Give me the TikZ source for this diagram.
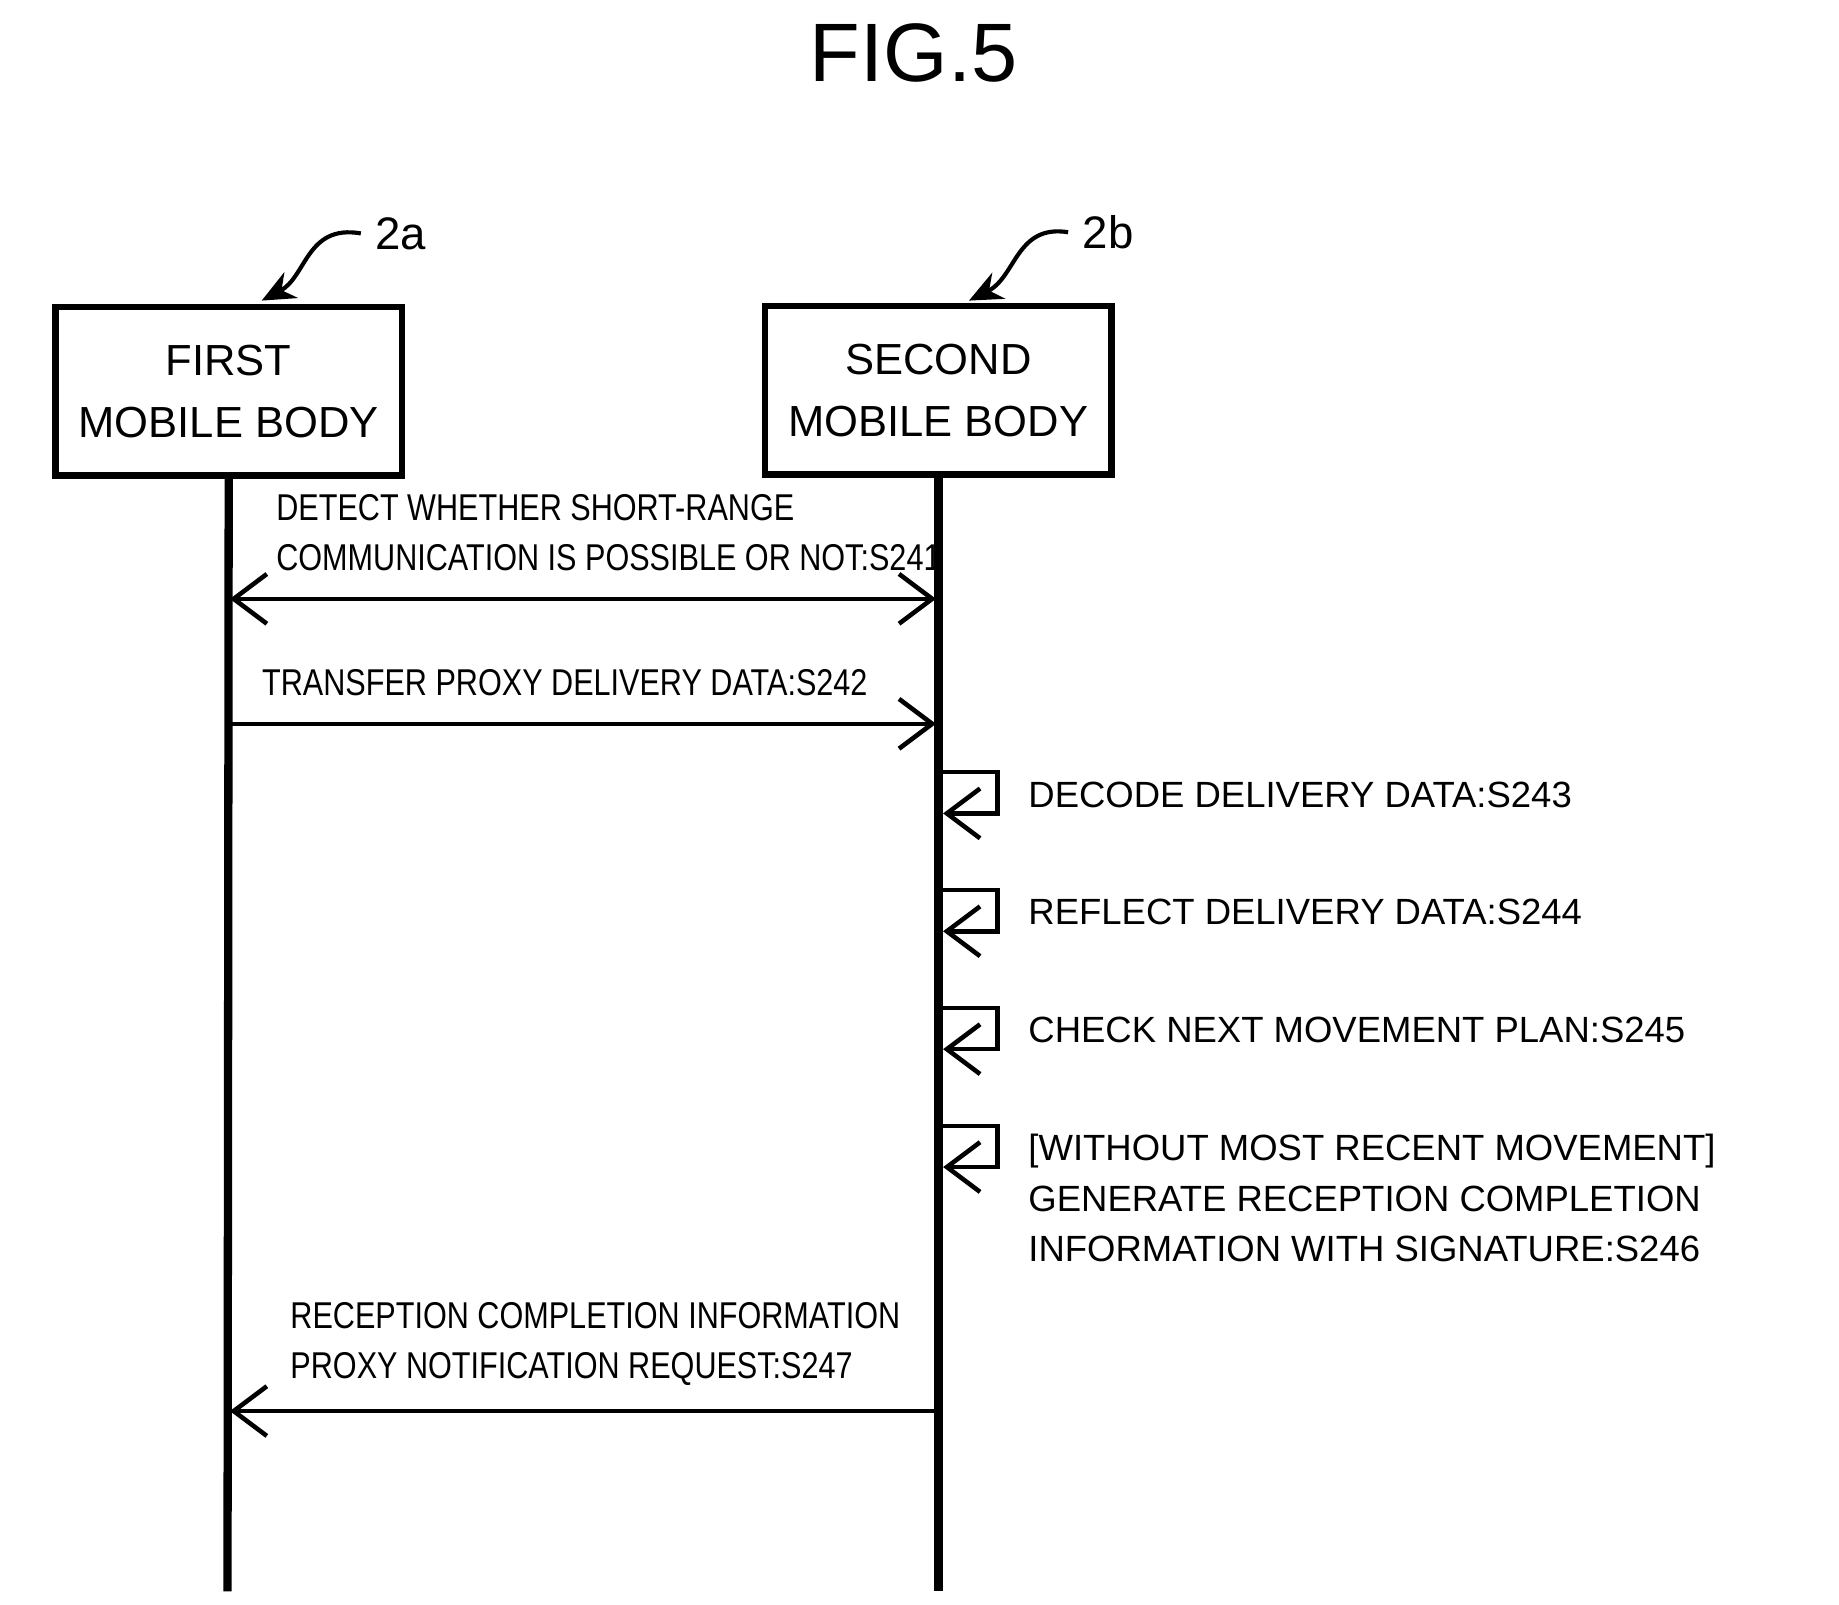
\documentclass[tikz,border=0pt]{standalone}
\usepackage{fontspec}
\setmainfont{Liberation Sans}
\newfontfamily\condfont[FakeStretch=0.82]{Liberation Sans}
\usetikzlibrary{arrows.meta,decorations.pathmorphing}
\begin{document}
\begin{tikzpicture}[x=0.01cm,y=-0.01cm,
  box/.style={draw,line width=1.6pt,minimum width=294\pgflinewidth,align=center,font=\fontsize{10.5}{15}\selectfont},
  line/.style={line width=1.2pt},
  arr/.style={line width=1.1pt,-{Straight Barb[length=8pt,width=12pt]}},
  lab/.style={font=\fontsize{8.8}{12}\selectfont,align=left,anchor=west},
  clab/.style={font=\condfont\fontsize{9}{12.2}\selectfont,align=left,anchor=south west}]
\useasboundingbox (0,0) rectangle (1560,1361);
\node (title) at (775,45) {\fontsize{20}{24}\selectfont FIG.5};
\node[box,minimum width=8.36cm/2.84*0.0+2.94cm,minimum height=1.43cm] (A) at (194,332) {FIRST\\MOBILE BODY};
\node[box,minimum width=2.94cm,minimum height=1.43cm] (B) at (796,331) {SECOND\\MOBILE BODY};
\coordinate (Aend) at (193,1350);
\coordinate (Bend) at (796,1350);
\draw[line width=2pt] (A.south) -- (Aend);
\draw[line width=2pt] (B.south) -- (Bend);
% labels 2a 2b
\node[font=\fontsize{11}{13}\selectfont] (la) at (340,198) {2a};
\node[font=\fontsize{11}{13}\selectfont] (lb) at (940,197) {2b};
\draw[line width=1pt,-{Stealth[length=8pt,width=7pt]}] (la.west) .. controls (260,190) and (260,235) .. (222,255);
\draw[line width=1pt,-{Stealth[length=8pt,width=7pt]}] (lb.west) .. controls (862,190) and (862,235) .. (822,255);
% S241
\coordinate (a1) at (195,508); \coordinate (b1) at (794,508);
\draw[arr,{Straight Barb[length=8pt,width=12pt]}-{Straight Barb[length=8pt,width=12pt]}] (a1) -- (b1);
\node[clab] (t1) at (222,497) {DETECT WHETHER SHORT-RANGE\\COMMUNICATION IS POSSIBLE OR NOT:S241};
% S242
\coordinate (a2) at (195,614); \coordinate (b2) at (794,614);
\draw[arr] (a2) -- (b2);
\node[clab] (t2) at (210,603) {TRANSFER PROXY DELIVERY DATA:S242};
% self loops
\foreach \y/\n/\t in {655/3/{DECODE DELIVERY DATA:S243},755/4/{REFLECT DELIVERY DATA:S244},855/5/{CHECK NEXT MOVEMENT PLAN:S245}}{
  \coordinate (s\n) at (798,\y);
  \coordinate (e\n) at (800,\y+35);
  \draw[arr] (s\n) -- ++(48,0) -- ++(0,35) -- (e\n);
  \node[lab] (t\n) at (860,\y+19) {\t};
}
\coordinate (s6) at (798,955); \coordinate (e6) at (800,990);
\draw[arr] (s6) -- ++(48,0) -- ++(0,35) -- (e6);
\node[lab,anchor=north west,font=\fontsize{8.8}{12.1}\selectfont] (t6) at (860,950) {[WITHOUT MOST RECENT MOVEMENT]\\GENERATE RECEPTION COMPLETION\\INFORMATION WITH SIGNATURE:S246};
% S247
\coordinate (b7) at (796,1197); \coordinate (a7) at (195,1197);
\draw[arr] (b7) -- (a7);
\node[clab] (t7) at (234,1188) {RECEPTION COMPLETION INFORMATION\\PROXY NOTIFICATION REQUEST:S247};
\end{tikzpicture}
\end{document}
